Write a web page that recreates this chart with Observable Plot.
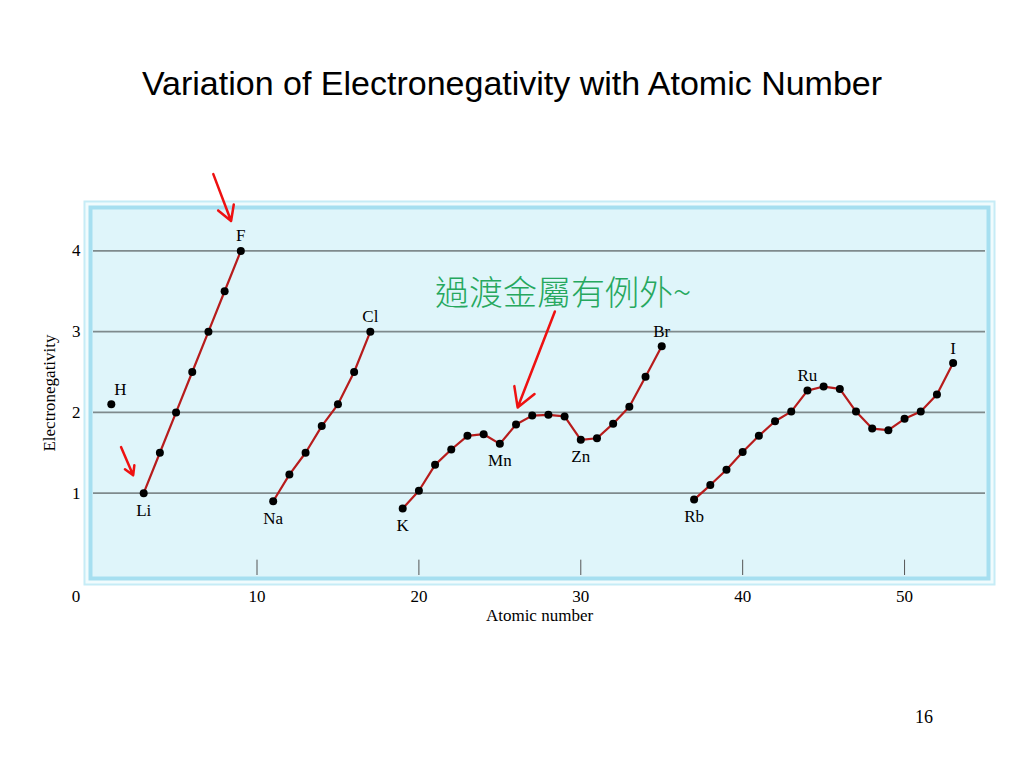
<!DOCTYPE html>
<html>
<head>
<meta charset="utf-8">
<script src="https://cdn.jsdelivr.net/npm/d3@7"></script>
<script src="https://cdn.jsdelivr.net/npm/@observablehq/plot@0.6"></script>
<style>
  html, body { margin: 0; padding: 0; background: #ffffff; width: 1024px; height: 768px; overflow: hidden; }
  #wrap { position: relative; width: 1024px; height: 768px; }
  #title { position: absolute; left: 0; width: 1024px; top: 63px; text-align: center;
           font-family: "Liberation Sans", Arial, sans-serif; font-size: 34px; line-height: 40px; color: #000; }
  #page { position: absolute; left: 915px; top: 707px; font-family: "Liberation Serif", "Times New Roman", serif;
          font-size: 18px; color: #000; }
  #chart { position: absolute; left: 0; top: 0; }
</style>
</head>
<body>
<div id="wrap">
  <div id="chart"></div>
  <div id="title">Variation of Electronegativity with Atomic Number</div>
  <div id="page">16</div>
</div>
<script>
// Atomic numbers and electronegativity values
const hydrogenZ = [1];
const hydrogenEN = [2.1];
const period2Z = [3, 4, 5, 6, 7, 8, 9];
const period2EN = [1.0, 1.5, 2.0, 2.5, 3.0, 3.5, 4.0];
const period3Z = [11, 12, 13, 14, 15, 16, 17];
const period3EN = [0.9, 1.23, 1.5, 1.83, 2.1, 2.5, 3.0];
const period4Z = [19, 20, 21, 22, 23, 24, 25, 26, 27, 28, 29, 30, 31, 32, 33, 34, 35];
const period4EN = [0.81, 1.03, 1.35, 1.54, 1.71, 1.73, 1.61, 1.85, 1.96, 1.97, 1.95, 1.66, 1.68, 1.86, 2.07, 2.44, 2.82];
const period5Z = [37, 38, 39, 40, 41, 42, 43, 44, 45, 46, 47, 48, 49, 50, 51, 52, 53];
const period5EN = [0.92, 1.10, 1.29, 1.51, 1.71, 1.89, 2.01, 2.27, 2.32, 2.29, 2.01, 1.80, 1.78, 1.92, 2.01, 2.22, 2.61];

// Element labels
const labelNames = ["H", "F", "Li", "Cl", "Na", "K", "Mn", "Zn", "Br", "Rb", "Ru", "I"];
const labelZ     = [1, 9, 3, 17, 11, 19, 25, 30, 35, 37, 44, 53];
const labelPos   = ["above-right", "above", "below", "above", "below", "below", "below", "below", "above", "below", "above", "above"];

// Axis ticks
const xTicks = [0, 10, 20, 30, 40, 50];
const yTicks = [1, 2, 3, 4];

// Annotation text and arrows (data coordinates)
const noteText = ["過渡金屬有例外~"];
const noteZ = [28.9];
const noteEN = [3.47];
const arrowZ1 = [7.3, 1.6, 28.4];
const arrowEN1 = [4.95, 1.57, 3.25];
const arrowZ2 = [8.4, 2.35, 26.1];
const arrowEN2 = [4.37, 1.22, 2.06];

const series = [
  {name: "p2", Z: period2Z, EN: period2EN},
  {name: "p3", Z: period3Z, EN: period3EN},
  {name: "p4", Z: period4Z, EN: period4EN},
  {name: "p5", Z: period5Z, EN: period5EN}
];
const lineData = series.flatMap(s => s.Z.map((z, i) => ({period: s.name, Z: z, EN: s.EN[i]})));
const pointData = hydrogenZ.map((z, i) => ({Z: z, EN: hydrogenEN[i]})).concat(lineData);
const enByZ = new Map(pointData.map(d => [d.Z, d.EN]));
const labels = labelNames.map((n, i) => ({name: n, Z: labelZ[i], EN: enByZ.get(labelZ[i]), pos: labelPos[i]}));
const arrows = arrowZ1.map((z, i) => ({x1: z, y1: arrowEN1[i], x2: arrowZ2[i], y2: arrowEN2[i]}));
const notes = noteText.map((t, i) => ({t, Z: noteZ[i], EN: noteEN[i]}));

const serif = "'Liberation Serif', 'Times New Roman', serif";
const fs = 17;

const chart = Plot.plot({
  width: 1024,
  height: 768,
  marginLeft: 93,
  marginRight: 39,
  marginTop: 210,
  marginBottom: 193,
  style: {fontFamily: serif, fontSize: fs + "px", background: "transparent", overflow: "visible"},
  x: {domain: [-0.1, 55], label: null},
  y: {domain: [-0.02, 4.5], label: null},
  marks: [
    // framed background
    Plot.frame({fill: "#c6ecf6", inset: -10}),
    Plot.frame({fill: "#f0fbfd", inset: -8}),
    Plot.frame({fill: "#a6dff0", inset: -5}),
    Plot.frame({fill: "#dff5fa", inset: -1}),
    Plot.ruleY(yTicks, {stroke: "#7f8a8c", strokeWidth: 1.6}),
    Plot.ruleX(xTicks.filter(t => t > 0), {y1: -0.02, y2: 0.17, stroke: "#555", strokeWidth: 1}),
    Plot.axisX(xTicks.filter(t => t > 0), {tickSize: 0, tickPadding: 14, fontSize: fs, tickFormat: d => String(d)}),
    Plot.axisX([0], {tickSize: 0, tickPadding: 14, fontSize: fs, dx: -19, tickFormat: d => String(d)}),
    Plot.axisY(yTicks, {tickSize: 0, tickPadding: 13, fontSize: fs, tickFormat: d => String(d)}),
    Plot.text(["Electronegativity"], {frameAnchor: "left", textAnchor: "middle", rotate: -90, dx: -44, fontSize: fs}),
    Plot.text(["Atomic number"], {frameAnchor: "bottom", dy: 45, fontSize: fs}),
    Plot.line(lineData, {x: "Z", y: "EN", z: "period", stroke: "#b71c1c", strokeWidth: 2.2}),
    Plot.dot(pointData, {x: "Z", y: "EN", r: 4, fill: "#000"}),
    Plot.text(labels.filter(d => d.pos === "above"), {x: "Z", y: "EN", text: "name", dy: -15, fontSize: fs}),
    Plot.text(labels.filter(d => d.pos === "below"), {x: "Z", y: "EN", text: "name", dy: 17, fontSize: fs}),
    Plot.text(labels.filter(d => d.pos === "above-right"), {x: "Z", y: "EN", text: "name", dx: 9, dy: -15, fontSize: fs}),
    Plot.text(notes, {x: "Z", y: "EN", text: "t", fill: "#26a85e", fontSize: 34,
      fontFamily: "'Noto Sans CJK TC', 'Noto Sans CJK SC', sans-serif", fontWeight: 300}),
    Plot.arrow(arrows, {x1: "x1", y1: "y1", x2: "x2", y2: "y2", stroke: "#ee1111", strokeWidth: 2.5, headLength: 13})
  ]
});
document.getElementById("chart").appendChild(chart);
</script>
</body>
</html>
